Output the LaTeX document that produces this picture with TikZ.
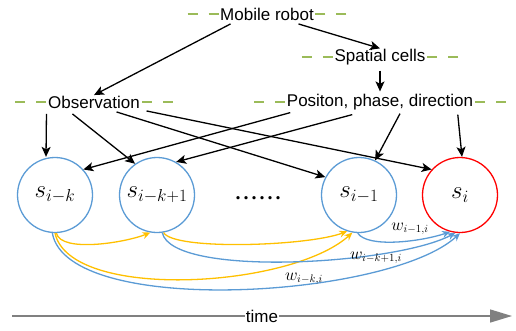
\documentclass[tikz,border=0pt]{standalone}
\usepackage{fontspec}
\setmainfont{Liberation Serif}
\setsansfont{Liberation Sans}
\usetikzlibrary{arrows.meta}
\definecolor{cellblue}{HTML}{5B9BD5}
\definecolor{cellred}{HTML}{FF0000}
\definecolor{linkyellow}{HTML}{FFC000}
\definecolor{dashgreen}{HTML}{9BBB59}
\definecolor{timegray}{HTML}{808080}

\begin{document}
\begin{tikzpicture}[x=1pt,y=-1pt,
    lbl/.style={inner sep=0.5pt,font=\sffamily\fontsize{17}{20}\selectfont},
    state/.style={circle,draw=cellblue,line width=1.3pt,minimum size=75pt,inner sep=0pt,
        font=\fontsize{24}{28}\selectfont},
    arr/.style={-{Stealth[length=10pt,width=9pt,inset=2.5pt]},line width=1.3pt},
    yel/.style={draw=linkyellow,line width=1.3pt,-{Stealth[length=8pt,width=7pt]}},
    blu/.style={draw=cellblue,line width=1.3pt,-{Stealth[length=8pt,width=7pt]}},
    wlbl/.style={font=\fontsize{16}{18}\selectfont,inner sep=0pt},
    gdash/.style={dashgreen,line width=1.1pt,dash pattern=on 10pt off 11pt}]
    \useasboundingbox (0,0) rectangle (516,330);

    % text levels
    \node[lbl] (rob) at (267,14) {Mobile robot};
    \node[lbl] (cells) at (380,57) {Spatial cells};
    \node[lbl] (obs) at (94,102) {Observation};
    \node[lbl] (pos) at (380,102) {Positon, phase, direction};
    \foreach \n in {rob,cells,obs,pos} {
        \draw[gdash] ([xshift=-32pt]\n.west) -- (\n.west);
        \draw[gdash] ([xshift=32pt]\n.east) -- (\n.east);
    }

    % states
    \node[state] (sk) at (55,195) {$s_{i-k}$};
    \node[state] (sk1) at (157,195) {$s_{i-k+1}$};
    \node[state] (s1) at (359,195) {$s_{i-1}$};
    \node[state,draw=cellred] (si) at (460,195) {$s_{i}$};
    \node[anchor=base,font=\bfseries\fontsize{20}{22}\selectfont] (dots) at (258,199)
        {.\kern3pt.\kern3pt.\kern3pt.\kern3pt.\kern3pt.};

    % black arrows
    \draw[arr] ([xshift=11pt,yshift=-3pt]rob.south west) -- (obs.north);
    \draw[arr] ([xshift=-16pt,yshift=-3pt]rob.south east) -- (cells.north);
    \draw[arr] ([yshift=-5pt]cells.south) -- ([yshift=2pt]pos.north -| cells.south);
    \draw[arr] ([xshift=-1pt,yshift=-5pt]obs.south west) -- (sk.north -| 46,0);
    \draw[arr] ([xshift=25pt,yshift=-5pt]obs.south west) -- (sk1.125);
    \draw[arr] ([xshift=-24pt,yshift=-3pt]obs.south east) -- (s1.152);
    \draw[arr] ([xshift=6pt,yshift=-2pt]obs.south east) -- (si.138);
    \draw[arr] ([xshift=4pt,yshift=-2pt]pos.south west) -- (sk.42);
    \draw[arr] ([xshift=66pt,yshift=-4pt]pos.south west) -- (sk1.60);
    \draw[arr] ([xshift=20pt,yshift=-3pt]pos.south) -- (s1.65);
    \draw[arr] ([xshift=-16pt,yshift=-4pt]pos.south east) -- (si.north -| 462,0);

    % links between states
    \draw[yel] (sk.-88) .. controls +(5,20) and +(-25,10) .. (sk1.-100);
    \draw[yel] (sk1.-80) .. controls +(10,18) and +(-40,15) .. (s1.-108);
    \draw[yel] (sk.-90) .. controls +(15,68) and +(-62,56) .. (s1.-100);
    \draw[blu] (s1.-92) .. controls +(10,15) and +(-30,10) .. (si.-105);
    \draw[blu] (sk1.-82) .. controls +(10,45) and +(-60,32) .. (si.-97);
    \draw[blu] (sk.-94) .. controls +(15,85) and +(-70,65) .. (si.-90);
    \node[wlbl] (w1) at (410,229) {$w_{i-1,i}$};
    \node[wlbl] (w2) at (376,258) {$w_{i-k+1,i}$};
    \node[wlbl] (w3) at (304,279) {$w_{i-k,i}$};

    % time axis
    \node[lbl] (time) at (262,316) {time};
    \coordinate (tl) at (12,316);
    \coordinate (tr) at (512,316);
    \draw[timegray,line width=1.5pt] (tl) -- (time.west);
    \draw[timegray,line width=1.5pt,-{Triangle[length=22pt,width=13pt]}] (time.east) -- (tr);
\end{tikzpicture}
\end{document}
